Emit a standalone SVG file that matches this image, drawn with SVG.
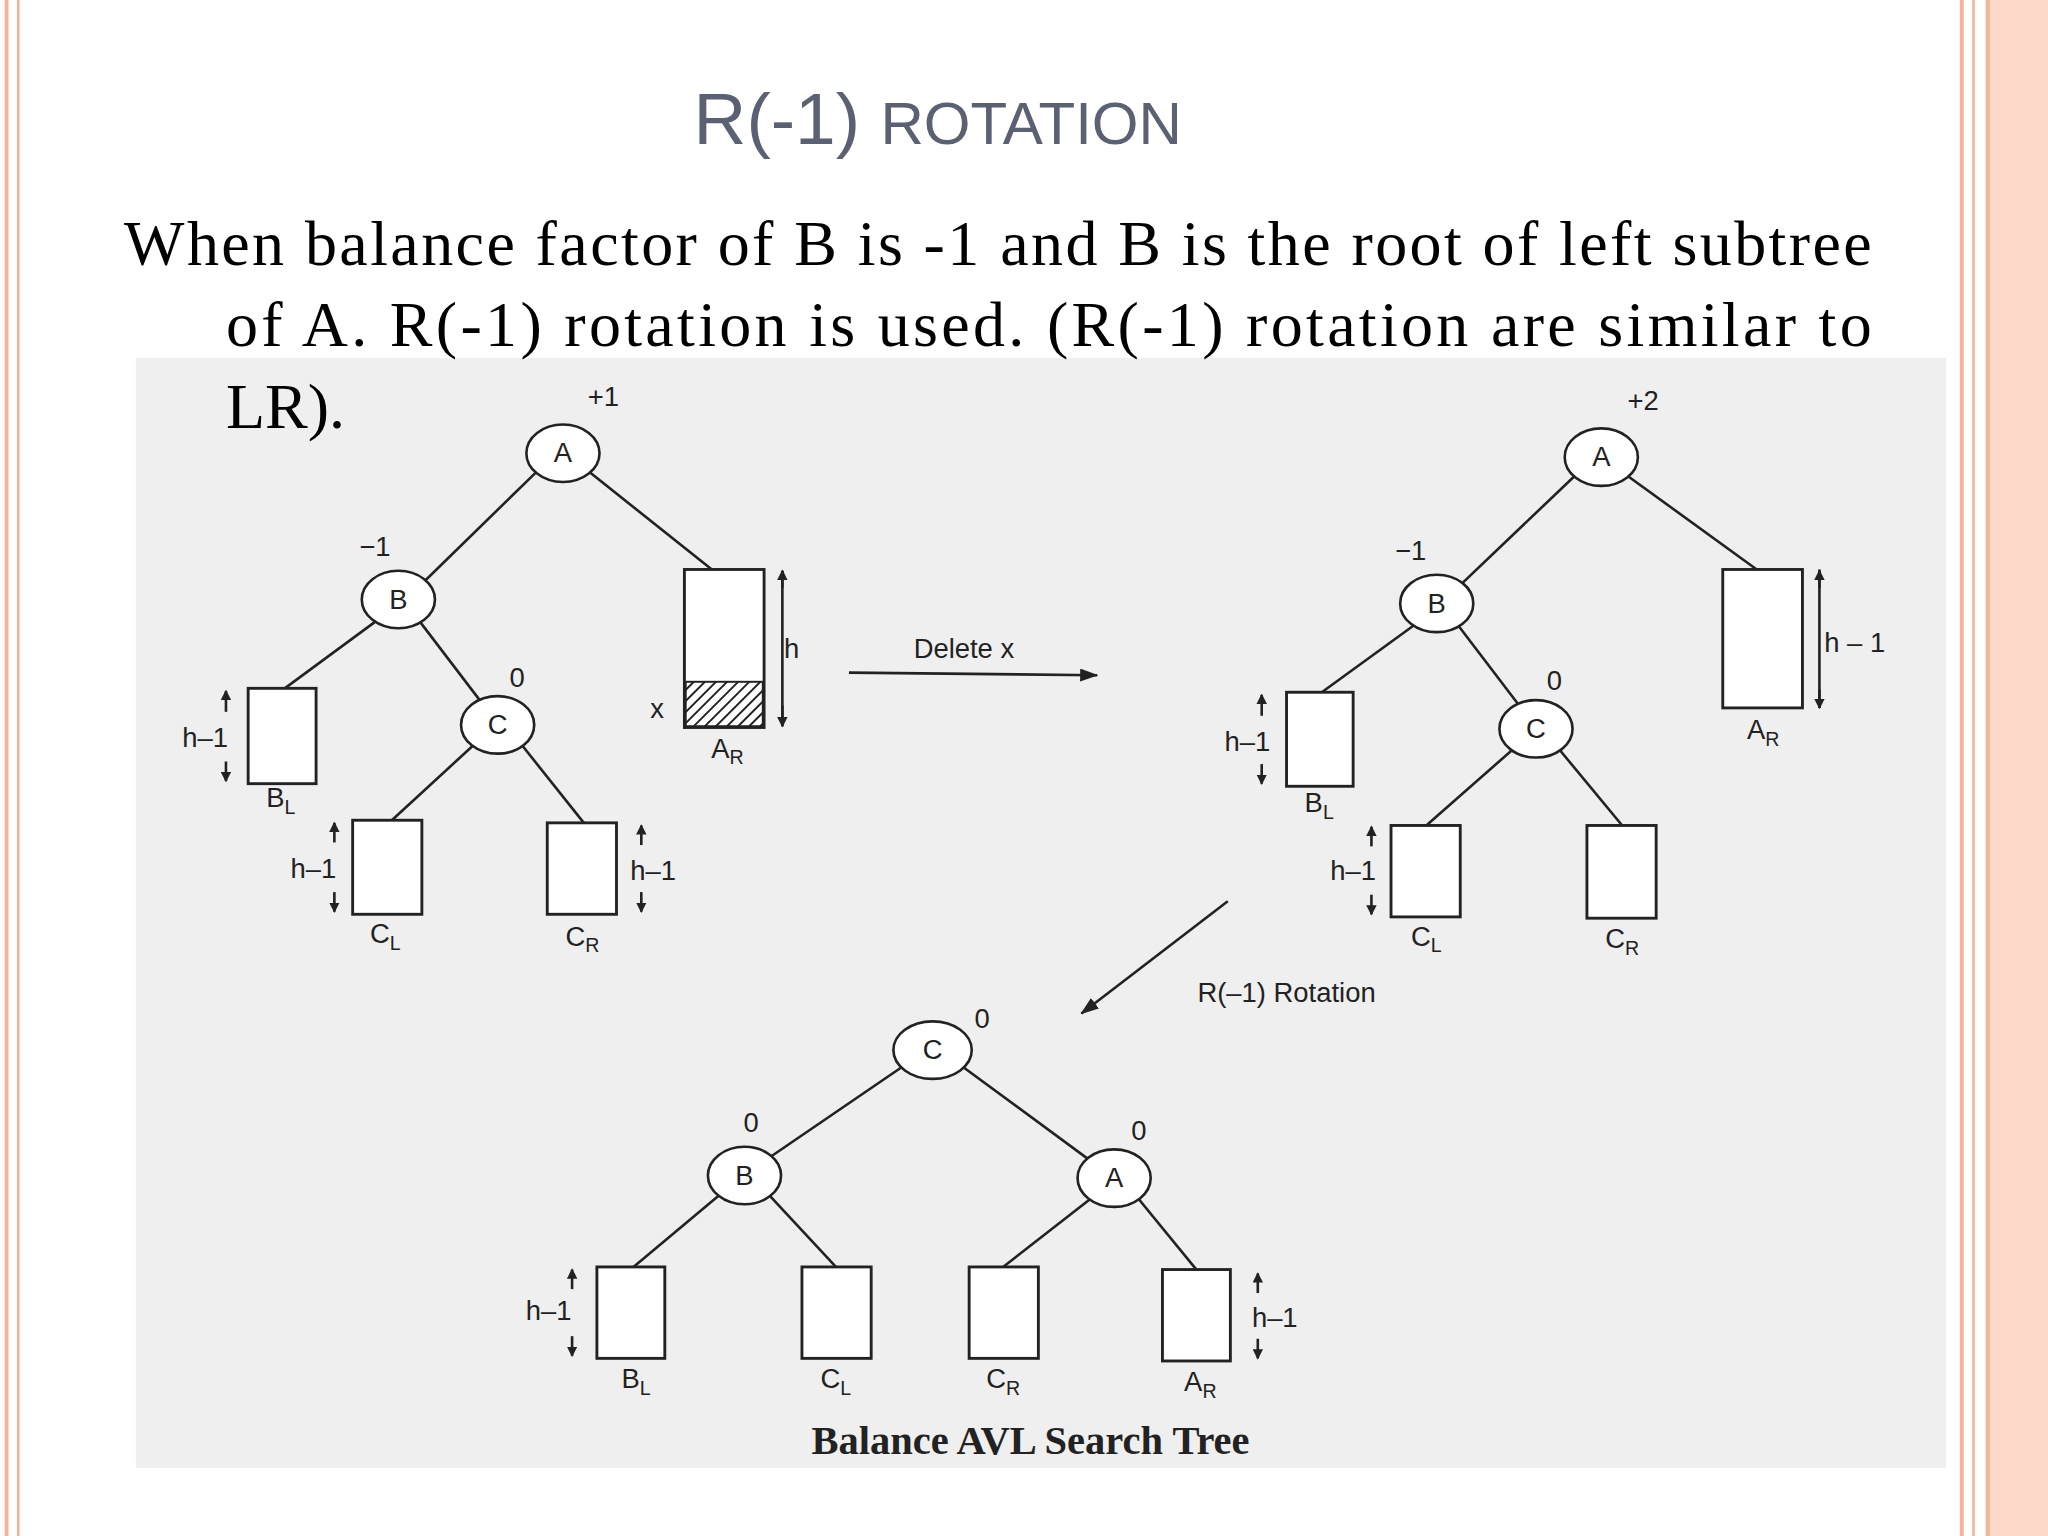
<svg xmlns="http://www.w3.org/2000/svg" width="2048" height="1536" viewBox="0 0 2048 1536">
<style>
.n{fill:#fff;stroke:#222;stroke-width:2}
.b{fill:#fff;stroke:#222;stroke-width:2.2}
.e{stroke:#222;stroke-width:2;fill:none}
.t{font-family:"Liberation Sans",Arial,sans-serif;font-size:21px;fill:#222}
.c{text-anchor:middle}
.p{font-family:"Liberation Serif","Times New Roman",serif;font-size:49px;fill:#000}
</style>
<defs>
<marker id="ah" markerWidth="8" markerHeight="8" refX="7" refY="4" orient="auto" markerUnits="userSpaceOnUse"><path d="M0,0L8,4L0,8z" fill="#222"/></marker>
<marker id="big" markerWidth="14" markerHeight="10" refX="13" refY="5" orient="auto" markerUnits="userSpaceOnUse"><path d="M0,0L14,5L0,10z" fill="#222"/></marker>
<pattern id="hatch" width="6" height="6" patternUnits="userSpaceOnUse" patternTransform="rotate(45)"><rect width="6" height="6" fill="#fff"/><line x1="0" y1="0" x2="0" y2="6" stroke="#222" stroke-width="3"/></pattern>
</defs>
<rect width="2048" height="1536" fill="#fff"/>
<g transform="scale(1.30612)">
<g id="frame">
<line x1="5" y1="0" x2="5" y2="1176" stroke="#f2b49a" stroke-width="3"/>
<line x1="14" y1="0" x2="14" y2="1176" stroke="#f2b49a" stroke-width="2"/>
<line x1="1502" y1="0" x2="1502" y2="1176" stroke="#f2b49a" stroke-width="3"/>
<line x1="1511" y1="0" x2="1511" y2="1176" stroke="#f2b49a" stroke-width="2"/>
<rect x="1520" y="0" width="48" height="1176" fill="#fcd9c8"/>
<line x1="1522" y1="0" x2="1522" y2="1176" stroke="#f2b49a" stroke-width="3"/>
</g>
<rect id="figure" x="104" y="274" width="1386" height="850" fill="#efefef"/>
<g id="title">
<text x="718" y="110" text-anchor="middle" font-family="Liberation Sans,Arial,sans-serif" fill="#5b6173"><tspan font-size="56">R(-1) </tspan><tspan font-size="46">ROTATION</tspan></text>
</g>
<g id="para" class="p">
<text x="95" y="203" textLength="1338" lengthAdjust="spacing">When balance factor of B is -1 and B is the root of left subtree</text>
<text x="173" y="265" textLength="1260" lengthAdjust="spacing">of A.  R(-1) rotation is used. (R(-1) rotation are similar to</text>
<text x="173" y="328">LR).</text>
</g>
<g id="connectors">
<line class="e" x1="410" y1="362" x2="325" y2="445"/>
<line class="e" x1="452" y1="362" x2="545" y2="436"/>
<line class="e" x1="290" y1="474" x2="218" y2="527"/>
<line class="e" x1="320" y1="474" x2="368" y2="537"/>
<line class="e" x1="362" y1="571" x2="300" y2="628"/>
<line class="e" x1="400" y1="571" x2="447" y2="630"/>
<line class="e" x1="1205" y1="365" x2="1118" y2="448"/>
<line class="e" x1="1247" y1="365" x2="1345" y2="436"/>
<line class="e" x1="1085" y1="477" x2="1012" y2="530"/>
<line class="e" x1="1115" y1="477" x2="1163" y2="540"/>
<line class="e" x1="1158" y1="574" x2="1092" y2="632"/>
<line class="e" x1="1194" y1="574" x2="1242" y2="632"/>
<line class="e" x1="692" y1="816" x2="588" y2="887"/>
<line class="e" x1="736" y1="816" x2="834" y2="888"/>
<line class="e" x1="552" y1="914" x2="485" y2="970"/>
<line class="e" x1="588" y1="914" x2="640" y2="970"/>
<line class="e" x1="836" y1="917" x2="768" y2="970"/>
<line class="e" x1="871" y1="917" x2="916" y2="972"/>
<line class="e" x1="650" y1="515" x2="840" y2="517" marker-end="url(#big)"/>
<line class="e" x1="940" y1="690" x2="828" y2="776" marker-end="url(#big)"/>
<g class="e" stroke-width="1.6">
<line x1="599" y1="450" x2="599" y2="437" marker-end="url(#ah)"/><line x1="599" y1="540" x2="599" y2="556" marker-end="url(#ah)"/><line x1="599" y1="437" x2="599" y2="556"/>
<line x1="173" y1="545" x2="173" y2="529" marker-end="url(#ah)"/><line x1="173" y1="583" x2="173" y2="598" marker-end="url(#ah)"/>
<line x1="256" y1="645" x2="256" y2="630" marker-end="url(#ah)"/><line x1="256" y1="683" x2="256" y2="698" marker-end="url(#ah)"/>
<line x1="491" y1="647" x2="491" y2="632" marker-end="url(#ah)"/><line x1="491" y1="683" x2="491" y2="698" marker-end="url(#ah)"/>
<line x1="1393" y1="436" x2="1393" y2="542"/><line x1="1393" y1="450" x2="1393" y2="437" marker-end="url(#ah)"/><line x1="1393" y1="528" x2="1393" y2="542" marker-end="url(#ah)"/>
<line x1="966" y1="548" x2="966" y2="532" marker-end="url(#ah)"/><line x1="966" y1="585" x2="966" y2="600" marker-end="url(#ah)"/>
<line x1="1050" y1="648" x2="1050" y2="633" marker-end="url(#ah)"/><line x1="1050" y1="685" x2="1050" y2="700" marker-end="url(#ah)"/>
<line x1="438" y1="987" x2="438" y2="972" marker-end="url(#ah)"/><line x1="438" y1="1023" x2="438" y2="1038" marker-end="url(#ah)"/>
<line x1="963" y1="990" x2="963" y2="975" marker-end="url(#ah)"/><line x1="963" y1="1025" x2="963" y2="1040" marker-end="url(#ah)"/>
</g>
</g>
<g id="tree1">
<g id="t1A"><ellipse class="n" cx="431" cy="347" rx="28" ry="22"/><text class="t c" x="431" y="354">A</text><text class="t c" x="462" y="311">+1</text></g>
<g id="t1B"><ellipse class="n" cx="305" cy="459" rx="28" ry="22"/><text class="t c" x="305" y="466">B</text><text class="t c" x="287" y="426">−1</text></g>
<g id="t1C"><ellipse class="n" cx="381" cy="555" rx="28" ry="22"/><text class="t c" x="381" y="562">C</text><text class="t c" x="396" y="526">0</text></g>
<g id="t1AR"><rect class="b" x="524" y="436" width="61" height="121"/><rect x="525" y="522" width="59" height="34" fill="url(#hatch)" stroke="#222" stroke-width="1.5"/><text class="t c" x="606" y="504">h</text><text class="t c" x="503" y="550">x</text><text class="t c" x="557" y="580">A<tspan font-size="15" dy="5">R</tspan></text></g>
<g id="t1BL"><rect class="b" x="190" y="527" width="52" height="73"/><text class="t c" x="157" y="572">h–1</text><text class="t c" x="215" y="618">B<tspan font-size="15" dy="5">L</tspan></text></g>
<g id="t1CL"><rect class="b" x="270" y="628" width="53" height="72"/><text class="t c" x="240" y="672">h–1</text><text class="t c" x="295" y="722">C<tspan font-size="15" dy="5">L</tspan></text></g>
<g id="t1CR"><rect class="b" x="419" y="630" width="53" height="70"/><text class="t c" x="500" y="674">h–1</text><text class="t c" x="446" y="724">C<tspan font-size="15" dy="5">R</tspan></text></g>
</g>
<text class="t c" x="738" y="504">Delete x</text>
<g id="tree2">
<g id="t2A"><ellipse class="n" cx="1226" cy="350" rx="28" ry="22"/><text class="t c" x="1226" y="357">A</text><text class="t c" x="1258" y="314">+2</text></g>
<g id="t2B"><ellipse class="n" cx="1100" cy="462" rx="28" ry="22"/><text class="t c" x="1100" y="469">B</text><text class="t c" x="1080" y="429">−1</text></g>
<g id="t2C"><ellipse class="n" cx="1176" cy="558" rx="28" ry="22"/><text class="t c" x="1176" y="565">C</text><text class="t c" x="1190" y="528">0</text></g>
<g id="t2AR"><rect class="b" x="1319" y="436" width="61" height="106"/><text class="t c" x="1420" y="499">h – 1</text><text class="t c" x="1350" y="566">A<tspan font-size="15" dy="5">R</tspan></text></g>
<g id="t2BL"><rect class="b" x="985" y="530" width="51" height="72"/><text class="t c" x="955" y="575">h–1</text><text class="t c" x="1010" y="622">B<tspan font-size="15" dy="5">L</tspan></text></g>
<g id="t2CL"><rect class="b" x="1065" y="632" width="53" height="70"/><text class="t c" x="1036" y="674">h–1</text><text class="t c" x="1092" y="724">C<tspan font-size="15" dy="5">L</tspan></text></g>
<g id="t2CR"><rect class="b" x="1215" y="632" width="53" height="71"/><text class="t c" x="1242" y="726">C<tspan font-size="15" dy="5">R</tspan></text></g>
</g>
<text class="t c" x="985" y="767">R(–1) Rotation</text>
<g id="tree3">
<g id="t3C"><ellipse class="n" cx="714" cy="804" rx="30" ry="22"/><text class="t c" x="714" y="811">C</text><text class="t c" x="752" y="787">0</text></g>
<g id="t3B"><ellipse class="n" cx="570" cy="900" rx="28" ry="22"/><text class="t c" x="570" y="907">B</text><text class="t c" x="575" y="867">0</text></g>
<g id="t3A"><ellipse class="n" cx="853" cy="902" rx="28" ry="22"/><text class="t c" x="853" y="909">A</text><text class="t c" x="872" y="873">0</text></g>
<g id="t3BL"><rect class="b" x="457" y="970" width="52" height="70"/><text class="t c" x="420" y="1011">h–1</text><text class="t c" x="487" y="1063">B<tspan font-size="15" dy="5">L</tspan></text></g>
<g id="t3CL"><rect class="b" x="614" y="970" width="53" height="70"/><text class="t c" x="640" y="1063">C<tspan font-size="15" dy="5">L</tspan></text></g>
<g id="t3CR"><rect class="b" x="742" y="970" width="53" height="70"/><text class="t c" x="768" y="1063">C<tspan font-size="15" dy="5">R</tspan></text></g>
<g id="t3AR"><rect class="b" x="890" y="972" width="52" height="70"/><text class="t c" x="976" y="1016">h–1</text><text class="t c" x="919" y="1065">A<tspan font-size="15" dy="5">R</tspan></text></g>
</g>
<text x="789" y="1113" text-anchor="middle" font-family="Liberation Serif,serif" font-size="31" font-weight="bold" fill="#222">Balance AVL Search Tree</text>
</g>
</svg>
